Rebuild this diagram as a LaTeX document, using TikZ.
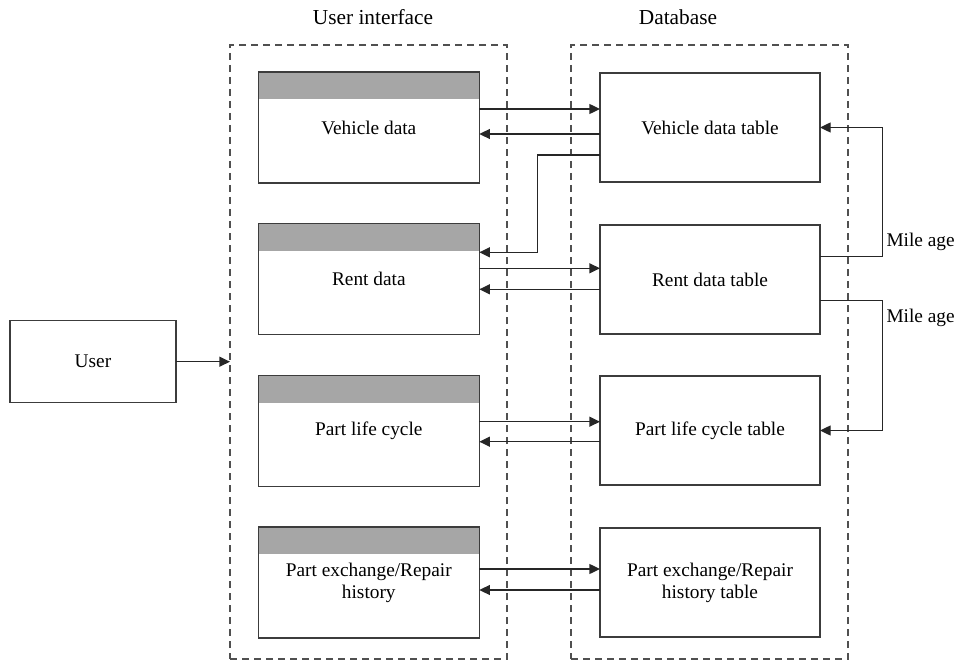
\documentclass[tikz,border=0pt]{standalone}
\usepackage{fontspec}
\setmainfont{Liberation Serif}
\usetikzlibrary{arrows.meta,calc}
\definecolor{edge}{HTML}{3C3C3C}
\definecolor{hdr}{HTML}{A6A6A6}
\definecolor{dash}{HTML}{505050}
\begin{document}
\begin{tikzpicture}[x=0.75pt,y=-0.75pt,
  every node/.style={inner sep=0pt,outer sep=0pt,font=\fontsize{14.5}{16.5}\selectfont},
  group/.style={draw=dash,line width=1pt,dash pattern=on 5.5pt off 3.5pt,
    minimum width=207.75pt,minimum height=460.5pt},
  title/.style={font=\fontsize{16}{18}\selectfont},
  form/.style={draw=edge,line width=1pt,fill=white,align=center,
    minimum width=165.75pt,minimum height=83.25pt},
  tbl/.style={draw=edge,line width=1pt,fill=white,align=center,
    minimum width=165pt,minimum height=81.75pt},
  actor/.style={draw=edge,line width=1pt,minimum width=124.5pt,minimum height=61.5pt},
  link/.style={draw=black!85,line width=1pt},
  arr/.style={link,-{Triangle[length=8pt,width=7.5pt]}},
]
\useasboundingbox (0,0) rectangle (958,660);

% groups
\node[group] (ui) at (368.5,352) {};
\node[group] (db) at (709.5,352) {};
\node[title] at (373,17) {User interface};
\node[title] at (678,17) {Database};

% user interface forms (with grey title bars)
\foreach \n/\y/\t in {vd/127.5/Vehicle data, rd/279/Rent data,
    pl/431/Part life cycle, px/582.5/{Part exchange/Repair\\history}}{
  \node[form] (\n) at (368.8,\y) {\t};
  \fill[hdr] (\n.north west) rectangle ([shift={(0,27)}]\n.north east);
  \draw[edge,line width=1pt] (\n.north west) rectangle (\n.south east);
}

% database tables
\node[tbl] (vt) at (710,127.5) {Vehicle data table};
\node[tbl] (rt) at (710,279.5) {Rent data table};
\node[tbl] (pt) at (710,430.5) {Part life cycle table};
\node[tbl] (xt) at (710,582.5) {Part exchange/Repair\\history table};

% user
\node[actor] (user) at (93,361.7) {User};
\draw[arr] (user.east) -- (user.east -| ui.west);

% form <-> table links
\draw[arr] ($(vd.east)+(0,-18.5)$) -- ($(vt.west)+(0,-18.5)$);
\draw[arr] ($(vt.west)+(0,6.5)$) -- ($(vd.east)+(0,6.5)$);
\coordinate (k1) at ($(vt.west)+(0,27.5)$);
\coordinate (k2) at ($(rd.east)+(0,-26.7)$);
\draw[arr] (k1) -- ++(-62.3,0) |- (k2);
\draw[arr] ($(rd.east)+(0,-10.7)$) -- ($(rd.east -| rt.west)+(0,-10.7)$);
\draw[arr] ($(rd.east -| rt.west)+(0,10.3)$) -- ($(rd.east)+(0,10.3)$);
\draw[arr] ($(pl.east)+(0,-9.3)$) -- ($(pl.east -| pt.west)+(0,-9.3)$);
\draw[arr] ($(pl.east -| pt.west)+(0,10.7)$) -- ($(pl.east)+(0,10.7)$);
\draw[arr] ($(px.east)+(0,-13.5)$) -- ($(xt.west)+(0,-13.5)$);
\draw[arr] ($(xt.west)+(0,7.5)$) -- ($(px.east)+(0,7.5)$);

% mileage feeds
\coordinate (m1) at ($(rt.east)+(0,-22.8)$);
\coordinate (m2) at ($(rt.east)+(0,21.2)$);
\draw[arr] (m1) -- ++(62.3,0) |- (vt.east);
\draw[arr] (m2) -- ++(62.3,0) |- (pt.east);
\node[anchor=west] (ml1) at (886.5,241.7) {Mile age};
\node[anchor=west] (ml2) at (886.5,318) {Mile age};
\end{tikzpicture}
\end{document}
